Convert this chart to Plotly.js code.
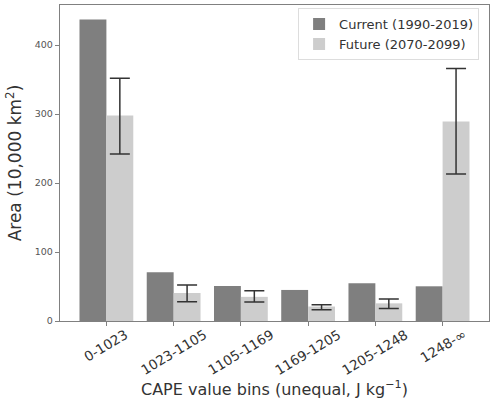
<!DOCTYPE html>
<html>
<head>
<meta charset="utf-8">
<script src="https://cdn.plot.ly/plotly-3.0.1.min.js"></script>
<style>html,body{margin:0;padding:0;background:#fff;}#chart{width:490px;height:401px;}</style>
</head>
<body>
<div id="chart"></div>
<script>
const categories = ["0-1023", "1023-1105", "1105-1169", "1169-1205", "1205-1248", "1248-∞"];
const currentValues = [437, 70.5, 50.7, 45, 54.6, 50.3];
const futureValues = [298, 40.6, 35, 21, 25.6, 289];
const futureUpper = [352, 52, 44, 23.6, 32, 366];
const futureLower = [242, 28, 27.5, 16.4, 18, 213];
const yTicks = [0, 100, 200, 300, 400];

const errPlus = futureUpper.map((u, i) => u - futureValues[i]);
const errMinus = futureLower.map((l, i) => futureValues[i] - l);

const traces = [
  {
    type: "bar", name: "Current (1990-2019)", x: categories, y: currentValues,
    marker: {color: "#7f7f7f"}
  },
  {
    type: "bar", name: "Future (2070-2099)", x: categories, y: futureValues,
    marker: {color: "#cdcdcd"},
    error_y: {type: "data", symmetric: false, array: errPlus, arrayminus: errMinus,
              color: "#333333", thickness: 1.5, width: 10}
  }
];

// rotated category labels centred under each tick (matplotlib-style)
const tickAnnotations = categories.map(c => ({
  x: c, xref: "x", y: -0.03, yref: "paper",
  text: c, showarrow: false, textangle: -31,
  xanchor: "center", yanchor: "top", xshift: 0, yshift: 7,
  font: {size: 13.5, color: "#333", family: "DejaVu Sans, sans-serif"}
}));

const layout = {
  width: 490, height: 401,
  margin: {l: 60, r: 1, t: 5, b: 80},
  paper_bgcolor: "#ffffff", plot_bgcolor: "#ffffff",
  font: {family: "DejaVu Sans, sans-serif", color: "#333"},
  barmode: "group", bargap: 0.2, bargroupgap: 0,
  showlegend: true,
  legend: {x: 0.555, y: 0.99, xanchor: "left", yanchor: "top",
           bgcolor: "rgba(255,255,255,0.9)", bordercolor: "#dddddd", borderwidth: 1,
           font: {size: 13, color: "#333"}, tracegroupgap: 2},
  annotations: tickAnnotations,
  xaxis: {
    type: "category", range: [-0.69, 5.69],
    showline: true, linecolor: "#808080", linewidth: 1.2, mirror: true,
    ticks: "outside", ticklen: 4, tickcolor: "#808080",
    showticklabels: false,
    title: {text: "CAPE value bins (unequal, J kg<sup>−1</sup>)", font: {size: 16, color: "#333"}, standoff: 58},
    showgrid: false, zeroline: false, automargin: false
  },
  yaxis: {
    range: [0, 458],
    tickvals: yTicks,
    showline: true, linecolor: "#808080", linewidth: 1.2, mirror: true,
    ticks: "outside", ticklen: 4, tickcolor: "#808080",
    tickfont: {size: 9.5, color: "#555"},
    title: {text: "Area (10,000 km<sup>2</sup>)", font: {size: 17, color: "#333"}, standoff: 8},
    showgrid: false, zeroline: false
  }
};

Plotly.newPlot("chart", traces, layout, {staticPlot: true, displayModeBar: false});
</script>
</body>
</html>
